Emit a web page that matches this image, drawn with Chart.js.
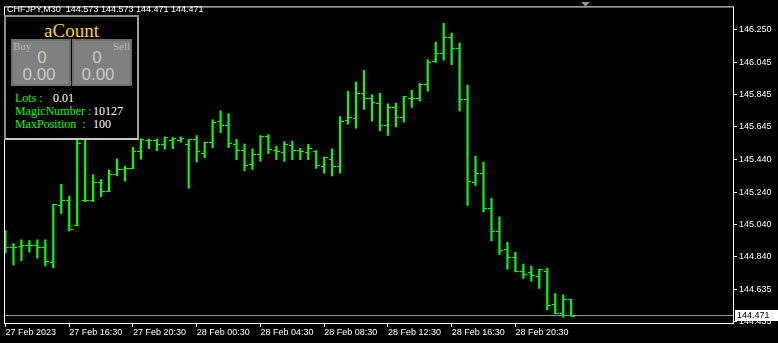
<!DOCTYPE html>
<html>
<head>
<meta charset="utf-8">
<script src="https://cdn.jsdelivr.net/npm/chart.js@4.4.0/dist/chart.umd.min.js"></script>
<style>
  html, body { margin: 0; padding: 0; background: #000; }
  #wrap { position: relative; width: 778px; height: 343px; overflow: hidden; }
  #chart { position: absolute; left: 0; top: 0; }
  .t { position: absolute; white-space: pre; }
  #head { left: 7px; top: 5px; font: 9px/9px "Liberation Sans"; color: #fff; }
  #panel { position: absolute; left: 4px; top: 15px; width: 135px; height: 125px; box-sizing: border-box;
           background: #000; border: 2px solid; border-color: #8c8c8c #a0a0a0 #c8c8c8 #8c8c8c; }
  .box { position: absolute; top: 39px; width: 60px; height: 47px; box-sizing: border-box;
         background: #808080; border: 2px solid #6e6e6e; }
  .title { left: 4px; width: 135px; top: 21px; text-align: center; font: 19px/19px "Liberation Serif"; color: #ffd700; }
  .small { top: 41px; font: 11px/11px "Liberation Serif"; color: #b4b4b4; }
  .big { width: 60px; text-align: center; font: 17px/17px "Liberation Sans"; color: #c8c8c8; }
  .lbl { left: 15px; font: 12px/12px "Liberation Serif"; color: #00ff00; }
  .val { font: 12px/12px "Liberation Serif"; color: #fff; }
</style>
</head>
<body>
<div id="wrap">
  <canvas id="chart" width="778" height="343"></canvas>
  <div class="t" id="head">CHFJPY,M30  144.573 144.573 144.471 144.471</div>
  <div id="panel"></div>
  <div class="t title">aCount</div>
  <div class="box" style="left:11px"></div>
  <div class="box" style="left:72px"></div>
  <div class="t small" style="left:13px">Buy</div>
  <div class="t small" style="left:72px;width:58px;text-align:right">Sell</div>
  <div class="t big" style="left:12px;top:49px">0</div>
  <div class="t big" style="left:9px;top:66px">0.00</div>
  <div class="t big" style="left:67px;top:49px">0</div>
  <div class="t big" style="left:68px;top:66px">0.00</div>
  <div class="t lbl" style="top:92px">Lots :</div>
  <div class="t val" style="left:53px;top:92px">0.01</div>
  <div class="t lbl" style="top:105px">MagicNumber :</div>
  <div class="t val" style="left:93px;top:105px">10127</div>
  <div class="t lbl" style="top:118px">MaxPosition  :</div>
  <div class="t val" style="left:93px;top:118px">100</div>
</div>
<script>
// CHFJPY M30 bars, 27 Feb 12:30 .. 28 Feb 23:30
var opens = [144.897, 144.899, 144.903, 144.908, 144.908, 144.896, 144.806, 145.155, 145.187, 145.033,
    145.188, 145.188, 145.300, 145.245, 145.349, 145.382, 145.387, 145.489, 145.562, 145.558,
    145.534, 145.562, 145.558, 145.538, 145.567, 145.481, 145.550, 145.677, 145.652, 145.534,
    145.501, 145.414, 145.475, 145.585, 145.500, 145.488, 145.532, 145.497, 145.487, 145.491,
    145.400, 145.442, 145.402, 145.683, 145.695, 145.853, 145.823, 145.792, 145.652, 145.762,
    145.701, 145.823, 145.823, 145.910, 146.049, 146.098, 146.199, 146.134, 145.817, 145.300,
    145.353, 145.140, 144.995, 144.883, 144.835, 144.745, 144.739, 144.719, 144.749, 144.544,
    144.489, 144.573];
var highs = [145.001, 144.920, 144.944, 144.940, 144.944, 144.944, 145.164, 145.288, 145.215, 145.666,
    145.636, 145.349, 145.318, 145.379, 145.447, 145.402, 145.518, 145.570, 145.570, 145.570,
    145.583, 145.579, 145.583, 145.567, 145.591, 145.550, 145.689, 145.744, 145.727, 145.567,
    145.538, 145.508, 145.591, 145.597, 145.524, 145.554, 145.556, 145.511, 145.536, 145.497,
    145.457, 145.509, 145.709, 145.866, 145.922, 145.996, 145.843, 145.853, 145.788, 145.792,
    145.835, 145.872, 145.914, 146.063, 146.171, 146.287, 146.226, 146.165, 145.904, 145.463,
    145.426, 145.202, 145.087, 144.928, 144.867, 144.794, 144.781, 144.761, 144.769, 144.611,
    144.603, 144.573];
var lows = [144.863, 144.789, 144.814, 144.867, 144.830, 144.781, 144.769, 145.107, 144.999, 145.030,
    145.180, 145.180, 145.212, 145.243, 145.341, 145.308, 145.384, 145.445, 145.509, 145.497,
    145.506, 145.509, 145.550, 145.265, 145.426, 145.454, 145.515, 145.609, 145.515, 145.442,
    145.371, 145.381, 145.432, 145.479, 145.442, 145.431, 145.442, 145.442, 145.442, 145.387,
    145.357, 145.341, 145.357, 145.662, 145.637, 145.753, 145.680, 145.619, 145.591, 145.644,
    145.674, 145.766, 145.805, 145.866, 146.044, 146.058, 146.030, 145.744, 145.158, 145.280,
    145.117, 144.938, 144.853, 144.761, 144.745, 144.704, 144.688, 144.643, 144.509, 144.484,
    144.464, 144.471];
var closes = [144.899, 144.896, 144.908, 144.911, 144.899, 144.810, 145.164, 145.188, 145.007, 145.540,
    145.188, 145.300, 145.245, 145.349, 145.382, 145.387, 145.494, 145.567, 145.562, 145.534,
    145.579, 145.570, 145.570, 145.567, 145.489, 145.550, 145.672, 145.652, 145.542, 145.501,
    145.408, 145.475, 145.587, 145.506, 145.495, 145.536, 145.497, 145.494, 145.508, 145.408,
    145.457, 145.402, 145.678, 145.701, 145.853, 145.823, 145.794, 145.652, 145.766, 145.701,
    145.831, 145.823, 145.910, 146.043, 146.098, 146.199, 146.134, 145.817, 145.304, 145.353,
    145.140, 144.995, 144.877, 144.835, 144.745, 144.731, 144.725, 144.757, 144.537, 144.489,
    144.573, 144.471];

var xTickIdx = [0, 8, 16, 24, 32, 40, 48, 56, 64];
var xTickLabels = ["27 Feb 2023", "27 Feb 16:30", "27 Feb 20:30", "28 Feb 00:30", "28 Feb 04:30",
    "28 Feb 08:30", "28 Feb 12:30", "28 Feb 16:30", "28 Feb 20:30"];
var yTicks = [146.250, 146.045, 145.845, 145.645, 145.440, 145.240, 145.040, 144.840, 144.635, 144.435];
var bid = 144.471;

function tickImg(side) {
    var c = document.createElement("canvas");
    c.width = 7;
    c.height = 1;
    var g = c.getContext("2d");
    g.fillStyle = "#00ff00";
    g.fillRect(side == "left" ? 0 : 4, 0, 3, 1);
    return c;
}

var frame = {
    id: "frame",
    beforeDatasetsDraw: function (chart) {
        var ctx = chart.ctx, a = chart.chartArea;
        var py = Math.round(chart.scales.y.getPixelForValue(bid)) - 0.5;
        ctx.save();
        ctx.strokeStyle = "#8a9099";
        ctx.lineWidth = 1;
        ctx.beginPath();
        ctx.moveTo(a.left, py);
        ctx.lineTo(a.right, py);
        ctx.stroke();
        ctx.restore();
    },
    afterDraw: function (chart) {
        var ctx = chart.ctx, a = chart.chartArea;
        var py = Math.round(chart.scales.y.getPixelForValue(bid)) - 1;
        ctx.save();
        ctx.strokeStyle = "#fff";
        ctx.lineWidth = 1;
        ctx.strokeRect(a.left - 0.5, a.top - 0.5, a.right - a.left + 1, a.bottom - a.top + 1);
        // bid price label
        ctx.fillStyle = "#fff";
        ctx.fillRect(a.right + 2, py - 5, 44, 11);
        ctx.fillStyle = "#000";
        ctx.font = '9px "Liberation Sans"';
        ctx.textBaseline = "middle";
        ctx.fillText(bid.toFixed(3), a.right + 4, py + 0.5);
        // chart shift marker
        ctx.fillStyle = "#8c96a0";
        ctx.beginPath();
        ctx.moveTo(581, 2);
        ctx.lineTo(590, 2);
        ctx.lineTo(585.5, 6.5);
        ctx.closePath();
        ctx.fill();
        ctx.restore();
    }
};

var axisFont = { family: "Liberation Sans", size: 9 };

new Chart(document.getElementById("chart"), {
    type: "scatter",
    data: {
        datasets: [
            {
                type: "bar",
                data: lows.map(function (l, i) { return { x: i, y: [l, highs[i]] }; }),
                backgroundColor: "#00ff00",
                barThickness: 1.5,
                borderWidth: 0,
            },
            {
                data: opens.map(function (v, i) { return { x: i, y: v }; }),
                pointStyle: tickImg("left"),
                pointRadius: 3,
            },
            {
                data: closes.map(function (v, i) { return { x: i, y: v }; }),
                pointStyle: tickImg("right"),
                pointRadius: 3,
            },
        ],
    },
    options: {
        responsive: false,
        animation: false,
        devicePixelRatio: 1,
        layout: { padding: { left: 2, top: 2, right: 0, bottom: 0 } },
        plugins: {
            legend: { display: false },
            tooltip: { enabled: false },
        },
        scales: {
            x: {
                type: "linear",
                min: -0.0625,
                max: 91.3125,
                offset: false,
                afterBuildTicks: function (axis) {
                    axis.ticks = xTickIdx.map(function (v) { return { value: v }; });
                },
                afterFit: function (axis) { axis.height = 20; },
                grid: { drawOnChartArea: false, offset: false, tickLength: 4, tickColor: "#fff" },
                border: { display: false },
                ticks: {
                    align: "start",
                    padding: 0,
                    color: "#fff",
                    font: axisFont,
                    autoSkip: false,
                    maxRotation: 0,
                    callback: function (v, i) { return xTickLabels[i]; },
                },
            },
            y: {
                type: "linear",
                position: "right",
                min: 144.428,
                max: 146.386,
                afterBuildTicks: function (axis) {
                    axis.ticks = yTicks.map(function (v) { return { value: v }; });
                },
                afterFit: function (axis) { axis.width = 45; },
                grid: { drawOnChartArea: false, tickLength: 4, tickColor: "#fff" },
                border: { display: false },
                ticks: {
                    padding: 2,
                    color: "#fff",
                    font: axisFont,
                    autoSkip: false,
                    callback: function (v) { return v.toFixed(3); },
                },
            },
        },
    },
    plugins: [frame],
});
</script>
</body>
</html>
